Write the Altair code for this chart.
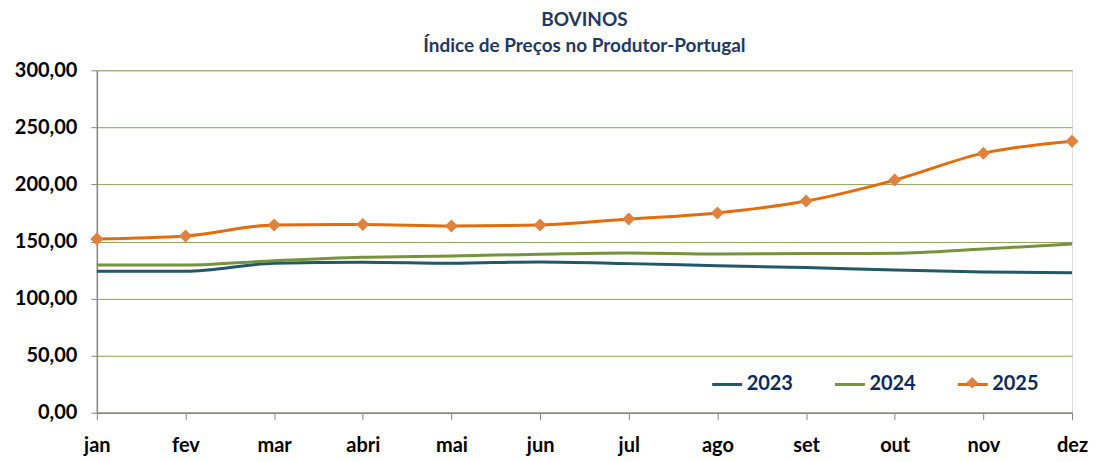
import altair as alt
import pandas as pd

months = ["jan", "fev", "mar", "abri", "mai", "jun", "jul", "ago", "set", "out", "nov", "dez"]
v2023 = [123.9, 123.9, 130.9, 131.8, 130.9, 132.1, 130.6, 128.8, 127.1, 125.1, 123.3, 122.5]
v2024 = [129.3, 129.3, 133.2, 136.2, 137.3, 138.8, 139.9, 139.0, 139.4, 139.7, 143.4, 147.8]
v2025 = [152.2, 154.8, 164.4, 164.9, 163.6, 164.4, 169.7, 175.0, 185.4, 203.8, 227.4, 237.9]
series = ["2023", "2024", "2025"]
line_colors = ["#215968", "#77933C", "#E46C0A"]
marker_color = "#E0823D"

rows = []
for name, vals in zip(series, [v2023, v2024, v2025]):
    for m, v in zip(months, vals):
        rows.append({"mes": m, "valor": v, "ano": name})
df = pd.DataFrame(rows)

FONT = "Lato"

x = alt.X("mes:N", sort=months, title=None,
          scale=alt.Scale(type="point", padding=0),
          axis=alt.Axis(labelAngle=0, labelFontSize=20, labelFontWeight="bold", labelColor="#000000",
                        labelFont=FONT, domainColor="#868686", tickColor="#868686", tickSize=7,
                        labelPadding=16, grid=False, domainWidth=1.5))
y = alt.Y("valor:Q", title=None,
          scale=alt.Scale(domain=[0, 300], nice=False),
          axis=alt.Axis(values=[0, 50, 100, 150, 200, 250, 300], labelExpr="replace(format(datum.value, '.2f'), '.', ',')",
                        labelFontSize=20, labelFontWeight="bold", labelColor="#000000", labelFont=FONT,
                        domainColor="#868686", tickColor="#868686", tickSize=6, labelPadding=14,
                        gridColor="#77933C", gridOpacity=0.85, gridWidth=1, domainWidth=1.5))

color = alt.Color("ano:N", scale=alt.Scale(domain=series, range=line_colors),
                  legend=alt.Legend(title=None, orient="none", legendX=615, legendY=298, direction="horizontal",
                                    symbolType="stroke", symbolStrokeWidth=3, symbolSize=900,
                                    labelFontSize=20, labelFontWeight="bold", labelColor="#0D2A5E",
                                    labelFont=FONT, columnPadding=35, symbolOffset=0, labelOffset=3))

shape = alt.Shape("ano:N", scale=alt.Scale(domain=["2025"], range=["diamond"]),
                  legend=alt.Legend(title=None, orient="none", legendX=867, legendY=303,
                                    symbolFillColor=marker_color, symbolStrokeColor=marker_color,
                                    symbolStrokeWidth=0, symbolSize=130, symbolOpacity=1,
                                    labelExpr="''", labelFontSize=20, labelFont=FONT, labelOffset=0))

lines = alt.Chart(df).mark_line(strokeWidth=3, interpolate="monotone").encode(x=x, y=y, color=color)
points = alt.Chart(df[df["ano"] == "2025"]).mark_point(filled=True, size=170,
                                                       color=marker_color, opacity=1).encode(x=x, y=y, shape=shape)

chart = alt.layer(lines, points).properties(
    width=977, height=343,
    title=alt.TitleParams(["BOVINOS", "Índice de Preços no Produtor-Portugal"], fontSize=19, font=FONT,
                          fontWeight="bold", color="#1F3864", anchor="middle", lineHeight=26, offset=4),
    padding={"left": 6, "top": 3, "right": 0, "bottom": 0},
).resolve_legend(color="independent", shape="independent").configure_view(stroke=None).configure(background="white")

chart.save("out.html", embed_options={"renderer": "svg", "actions": False})
